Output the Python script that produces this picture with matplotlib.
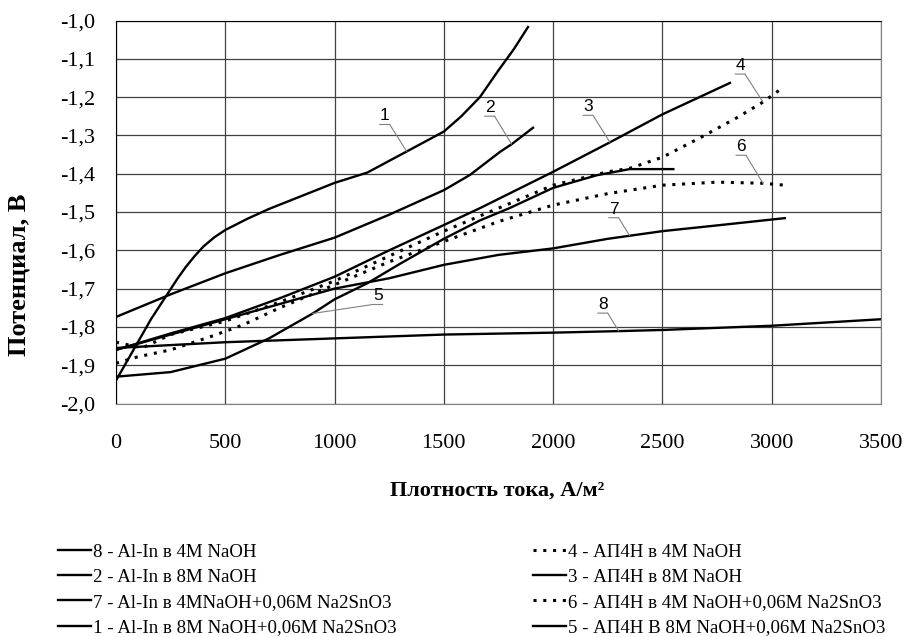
import matplotlib
matplotlib.use("Agg")
import matplotlib.pyplot as plt
from matplotlib.transforms import offset_copy

# --- данные ---
x1 = [0, 80, 160, 240, 280, 320, 360, 400, 450, 500, 600, 700, 850, 1000, 1150, 1330, 1500, 1580, 1665,
      1750, 1820, 1885]
y1 = [-1.94, -1.86, -1.78, -1.71, -1.675, -1.643, -1.615, -1.59, -1.566, -1.547, -1.518, -1.492, -1.458,
      -1.424, -1.397, -1.342, -1.29, -1.25, -1.20, -1.13, -1.075, -1.017]

x2 = [0, 250, 500, 750, 1000, 1250, 1500, 1620, 1757, 1810, 1908]
y2 = [-1.774, -1.715, -1.66, -1.612, -1.567, -1.507, -1.443, -1.403, -1.343, -1.323, -1.28]

x3 = [0, 250, 500, 750, 1000, 1250, 1500, 1665, 2000, 2260, 2500, 2809]
y3 = [-1.86, -1.817, -1.777, -1.725, -1.669, -1.60, -1.534, -1.49, -1.395, -1.318, -1.245, -1.163]

x4 = [0, 120, 250, 500, 750, 1000, 1250, 1500, 1750, 2000, 2250, 2350, 2500, 2670, 2840, 2960, 3047]
y4 = [-1.84, -1.855, -1.82, -1.785, -1.735, -1.68, -1.615, -1.55, -1.49, -1.43, -1.395, -1.386,
      -1.357, -1.307, -1.254, -1.213, -1.177]

x5 = [0, 250, 500, 700, 900, 1000, 1150, 1300, 1500, 1665, 1800, 2000, 2200, 2350, 2550]
y5 = [-1.93, -1.918, -1.883, -1.83, -1.765, -1.728, -1.686, -1.635, -1.57, -1.522, -1.49, -1.437,
      -1.404, -1.388, -1.388]

x6 = [0, 100, 250, 430, 580, 750, 1000, 1250, 1500, 1750, 2000, 2250, 2500, 2750, 2960, 3060]
y6 = [-1.895, -1.878, -1.86, -1.826, -1.795, -1.75, -1.69, -1.63, -1.577, -1.525, -1.482, -1.452,
      -1.43, -1.422, -1.425, -1.43]

x7 = [0, 250, 500, 750, 1000, 1250, 1500, 1750, 2000, 2250, 2350, 2500, 2750, 3060]
y7 = [-1.86, -1.82, -1.78, -1.74, -1.70, -1.673, -1.638, -1.612, -1.595, -1.57, -1.562, -1.55, -1.535, -1.516]

x8 = [0, 500, 1000, 1500, 2000, 2300, 2500, 3000, 3500]
y8 = [-1.855, -1.84, -1.83, -1.82, -1.815, -1.811, -1.808, -1.797, -1.78]

x_ticks = [0, 500, 1000, 1500, 2000, 2500, 3000, 3500]
y_ticks = [-2.0, -1.9, -1.8, -1.7, -1.6, -1.5, -1.4, -1.3, -1.2, -1.1, -1.0]
y_tick_labels = ["-2,0", "-1,9", "-1,8", "-1,7", "-1,6", "-1,5", "-1,4", "-1,3", "-1,2", "-1,1", "-1,0"]

dotted = (0, (1, 2.2))
series = [
    (x8, y8, "8 - Al-In в 4M NaOH", "-"),
    (x2, y2, "2 - Al-In в 8M NaOH", "-"),
    (x7, y7, "7 - Al-In в 4MNaOH+0,06M Na2SnO3", "-"),
    (x1, y1, "1 - Al-In в 8M NaOH+0,06M Na2SnO3", "-"),
    (x4, y4, "4 - АП4Н в 4M NaOH", dotted),
    (x3, y3, "3 - АП4Н в 8M NaOH", "-"),
    (x6, y6, "6 - АП4Н в 4M NaOH+0,06M Na2SnO3", dotted),
    (x5, y5, "5 - АП4Н В 8M NaOH+0,06M Na2SnO3", "-"),
]

# номер кривой, точка привязки выноски, смещение конца выноски (пиксели), сторона подчёркивания
callouts = [
    ("1", x1, y1, 1330, -17, -27, -1),
    ("2", x2, y2, 1810, -17, -28, -1),
    ("3", x3, y3, 2260, -17, -27, -1),
    ("4", x4, y4, 2960, -18, -28, -1),
    ("6", x6, y6, 2960, -17, -28, -1),
    ("7", x7, y7, 2350, -11, -18, -1),
    ("8", x8, y8, 2300, -11, -18, -1),
    ("5", x5, y5, 900, 60, -9, 1),
]

plt.rcParams["font.family"] = ["Liberation Serif", "DejaVu Serif"]

fig = plt.figure(figsize=(9.07, 6.37), dpi=100)
ax = fig.add_axes([116 / 907, 1 - 403.5 / 637, 765 / 907, 383 / 637])

for xs, ys, name, ls in series:
    if ls == "-":
        ax.plot(xs, ys, color="black", lw=1.7, ls=ls, label=name, solid_joinstyle="round")
    else:
        ax.plot(xs, ys, color="black", lw=2.2, ls=ls, label=name)

ax.set_xlim(0, 3500)
ax.set_ylim(-2.0, -1.0)
ax.set_xticks(x_ticks)
ax.set_yticks(y_ticks)
ax.set_yticklabels(y_tick_labels)
ax.tick_params(length=0, labelsize=16)
ax.tick_params(axis="x", pad=22)
ax.tick_params(axis="y", pad=15)
ax.grid(True, color="#404040", lw=0.9)
ax.set_axisbelow(True)
for side in ["left", "top"]:
    ax.spines[side].set_color("black")
for side in ["right", "bottom"]:
    ax.spines[side].set_color("#808080")

# выноски с номерами кривых
for num, xs, ys, xv, dx, dy, under in callouts:
    i = xs.index(xv)
    pt = (xs[i], ys[i])
    ux = dx + 10 * under
    ax.annotate("", xy=pt, xytext=(dx, -dy), textcoords="offset pixels",
                arrowprops=dict(arrowstyle="-", color="#808080", lw=0.8, shrinkA=0, shrinkB=0))
    ax.annotate("", xy=pt, xycoords=offset_copy(ax.transData, fig=fig, x=dx, y=-dy, units="dots"),
                xytext=pt, textcoords=offset_copy(ax.transData, fig=fig, x=ux, y=-dy, units="dots"),
                arrowprops=dict(arrowstyle="-", color="#808080", lw=0.8, shrinkA=0, shrinkB=0))
    ax.annotate(num, xy=pt, xytext=((dx + ux) / 2, -dy + 1), textcoords="offset pixels",
                ha="center", va="bottom", fontsize=12.5, family=["Liberation Sans", "DejaVu Sans"])

fig.text(19.5 / 907, 1 - 275 / 637, "Потенциал, В", rotation=90, ha="center", va="center",
         fontsize=19, fontweight="bold")
fig.text(497 / 907, 1 - 491 / 637, "Плотность тока, А/м²", ha="center", va="center",
         fontsize=16, fontweight="bold")

fig.legend(loc="upper left", bbox_to_anchor=(50 / 907, 1 - 536 / 637), ncol=2, frameon=False,
           fontsize=13.6, handlelength=1.75, handletextpad=0.12, columnspacing=7.2,
           labelspacing=0.42, borderaxespad=0)

fig.savefig("out.png", dpi=100)
